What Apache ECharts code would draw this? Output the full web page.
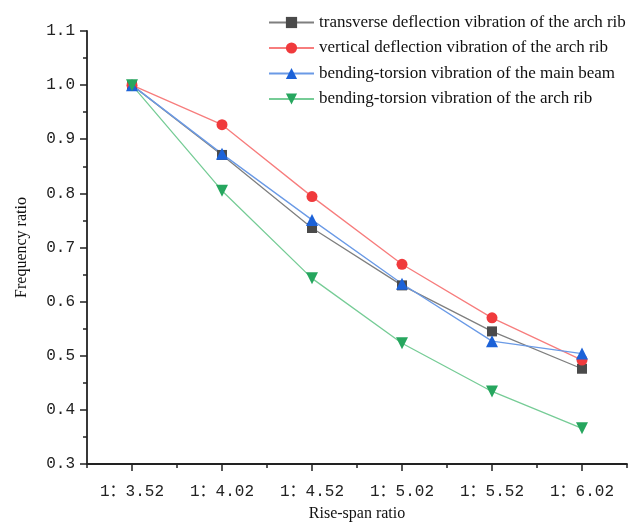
<!DOCTYPE html>
<html>
<head>
<meta charset="utf-8">
<script src="https://cdn.jsdelivr.net/npm/echarts@6/dist/echarts.min.js"></script>
<style>html,body{margin:0;padding:0;background:#fff}#c{width:644px;height:524px}</style>
</head>
<body>
<div id="c"></div>
<script>
var categories = ['1：3.52', '1：4.02', '1：4.52', '1：5.02', '1：5.52', '1：6.02'];
var transverseArch = [1.000, 0.871, 0.736, 0.630, 0.545, 0.476];
var verticalArch = [1.000, 0.927, 0.794, 0.669, 0.570, 0.492];
var bendingBeam = [1.000, 0.873, 0.751, 0.633, 0.527, 0.504];
var bendingArch = [1.000, 0.805, 0.643, 0.523, 0.434, 0.366];
var seriesNames = [
  'transverse deflection vibration of the arch rib',
  'vertical deflection vibration of the arch rib',
  'bending-torsion vibration of the main beam',
  'bending-torsion vibration of the arch rib'
];

var serif = '"Liberation Serif", "Times New Roman", serif';
var mono = '"Liberation Mono", "Noto Sans CJK SC", monospace';

function mk(name, data, lineColor, markColor, symbol, size) {
  return {
    name: name, type: 'line', data: data, xAxisIndex: 0,
    symbol: symbol, symbolSize: size,
    lineStyle: {color: lineColor, width: 1.3},
    itemStyle: {color: markColor},
    emphasis: {disabled: true}
  };
}

var chart = echarts.init(document.getElementById('c'));
chart.setOption({
  animation: false,
  backgroundColor: '#fff',
  grid: {left: 87, right: 17, top: 31, bottom: 60, outerBoundsMode: 'none', containLabel: false},
  legend: {
    orient: 'vertical', left: 263, top: 9, itemGap: 8.5,
    itemWidth: 45, itemHeight: 14,
    textStyle: {fontFamily: serif, fontSize: 17, color: '#111'},
    data: seriesNames
  },
  xAxis: [{
    type: 'category', data: categories, boundaryGap: true,
    name: 'Rise-span ratio', nameLocation: 'middle', nameGap: 42,
    nameTextStyle: {fontFamily: serif, fontSize: 16, color: '#111'},
    axisLine: {lineStyle: {color: '#222', width: 1.8}},
    axisTick: {show: true, alignWithLabel: true, length: 7, lineStyle: {color: '#222', width: 1.5}},
    axisLabel: {fontFamily: mono, fontSize: 16, color: '#222', margin: 20},
    splitLine: {show: false}
  }, {
    type: 'category', data: categories, boundaryGap: true, position: 'bottom',
    axisLine: {show: false},
    axisTick: {show: true, length: 4, lineStyle: {color: '#222', width: 1.5}},
    axisLabel: {show: false},
    splitLine: {show: false}
  }],
  yAxis: {
    type: 'value', min: 0.3, max: 1.1, interval: 0.1,
    name: 'Frequency ratio', nameLocation: 'middle', nameGap: 57,
    nameTextStyle: {fontFamily: serif, fontSize: 16, color: '#111'},
    axisLine: {show: true, lineStyle: {color: '#222', width: 1.8}},
    axisTick: {show: true, length: 7, lineStyle: {color: '#222', width: 1.5}},
    minorTick: {show: true, splitNumber: 2, length: 4, lineStyle: {color: '#222', width: 1.5}},
    axisLabel: {fontFamily: mono, fontSize: 16, color: '#222', margin: 12,
      formatter: function (v) { return v.toFixed(1); }},
    splitLine: {show: false}
  },
  series: [
    mk(seriesNames[0], transverseArch, '#7f7f7f', '#4a4a4a', 'rect', 10),
    mk(seriesNames[1], verticalArch, '#f77d7d', '#f03a3c', 'circle', 11),
    mk(seriesNames[2], bendingBeam, '#6a9ae6', '#1c62d8', 'triangle', 12),
    mk(seriesNames[3], bendingArch, '#76cc96', '#26a65e', 'path://M0,0 L10,0 L5,9 Z', 12)
  ]
});
</script>
</body>
</html>
